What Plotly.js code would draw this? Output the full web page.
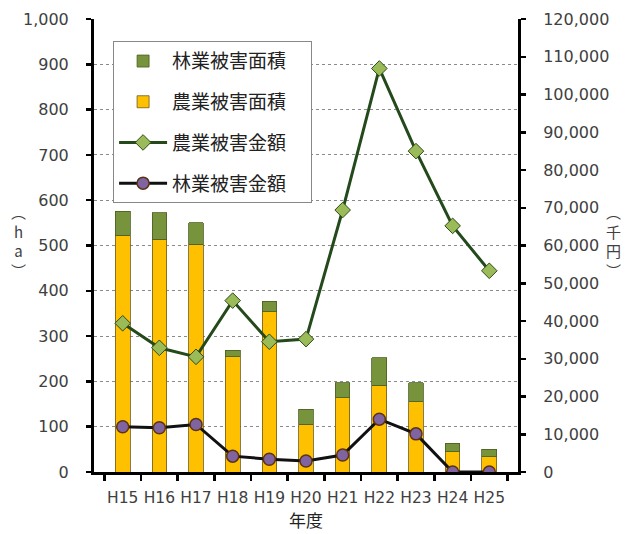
<!DOCTYPE html>
<html><head><meta charset="utf-8">
<script src="https://cdn.plot.ly/plotly-3.0.1.min.js"></script>
<style>html,body{margin:0;padding:0;background:#fff}</style>
</head><body>
<div id="chart" style="width:627px;height:534px"></div>
<script>
var years = ["H15","H16","H17","H18","H19","H20","H21","H22","H23","H24","H25"];
var agriArea = [523, 514, 503, 254, 354, 105, 164, 192, 155, 45, 34];
var forestArea = [53, 58, 47, 15, 23, 34, 33, 60, 42, 18, 16];
var agriMoney = [39400, 32900, 30500, 45400, 34500, 35200, 69400, 106900, 85000, 65200, 53300];
var forestMoney = [12000, 11700, 12600, 4200, 3400, 2900, 4500, 14000, 10100, 0, 0];
var leftTicks = [0,100,200,300,400,500,600,700,800,900,1000];
var rightTicks = [0,10000,20000,30000,40000,50000,60000,70000,80000,90000,100000,110000,120000];

var cjk = '"Noto Sans CJK JP", "DejaVu Sans", sans-serif';
var num = '"DejaVu Sans", sans-serif';

var traces = [
  {type:'bar', x:years, y:agriArea, name:'農業被害面積　', legendrank:2, legendgroup:'b',
   width:0.4, marker:{color:'#FFC000', line:{color:'#6b5a20', width:0.8}}},
  {type:'bar', x:years, y:forestArea, name:'林業被害面積　', legendrank:1, legendgroup:'a',
   width:0.4, marker:{color:'#77933C', line:{color:'#4a5e22', width:0.8}}},
  {type:'scatter', mode:'lines+markers', x:years, y:agriMoney, yaxis:'y2', name:'農業被害金額　', legendrank:3, legendgroup:'c',
   line:{color:'#244a1c', width:3},
   marker:{symbol:'diamond', size:12, color:'#9BBB59', line:{color:'#2d4a1a', width:1}}},
  {type:'scatter', mode:'lines+markers', x:years, y:forestMoney, yaxis:'y2', name:'林業被害金額　', legendrank:4, legendgroup:'d',
   line:{color:'#111111', width:3},
   marker:{symbol:'circle', size:12, color:'#8064A2', line:{color:'#5c3317', width:1.5}}}
];

var layout = {
  width:627, height:534,
  margin:{l:94, r:109, t:19, b:62},
  paper_bgcolor:'#fff', plot_bgcolor:'#fff',
  barmode:'stack',
  showlegend:true,
  font:{family:num, size:16, color:'#404040'},
  legend:{x:0.045, y:0.951, xanchor:'left', yanchor:'top', bgcolor:'#fff',
    bordercolor:'#888', borderwidth:1, traceorder:'grouped', tracegroupgap:13,
    itemwidth:48, font:{family:cjk, size:19, color:'#222'}},
  xaxis:{type:'category', showline:true, linecolor:'#000', linewidth:3,
    ticks:'outside', tickson:'boundaries', ticklen:6, tickwidth:2.5, tickcolor:'#000',
    tickangle:0, ticklabelstandoff:9, tickfont:{family:num, size:15.5, color:'#404040'},
    title:{text:'年度', font:{family:cjk, size:17, color:'#222'}, standoff:6},
    showgrid:false, fixedrange:true},
  yaxis:{range:[0,1000], tickvals:leftTicks, tickformat:',d', showline:true, linecolor:'#000', linewidth:3,
    ticks:'outside', ticklen:5, tickwidth:2.5, tickcolor:'#000', ticklabelstandoff:14,
    showgrid:true, gridcolor:'#8a8a8a', gridwidth:1, griddash:'dot', zeroline:false,
    tickfont:{family:num, size:16, color:'#404040'}},
  yaxis2:{range:[0,120000], tickvals:rightTicks, tickformat:',d', overlaying:'y', side:'right',
    showline:true, linecolor:'#000', linewidth:3, ticks:'outside', ticklen:5, tickwidth:2.5, tickcolor:'#000',
    ticklabelstandoff:14, showgrid:false, zeroline:false,
    tickfont:{family:num, size:16, color:'#404040'}},
  annotations:[
    {xref:'paper', yref:'paper', x:-0.178, y:0.51, xanchor:'center', yanchor:'middle', showarrow:false,
     text:'︵<br>h<br>a<br>︶', font:{family:cjk, size:15, color:'#404040'}},
    {xref:'paper', yref:'paper', x:1.226, y:0.51, xanchor:'center', yanchor:'middle', showarrow:false,
     text:'︵<br>千<br>円<br>︶', font:{family:cjk, size:15, color:'#404040'}}
  ]
};
Plotly.newPlot('chart', traces, layout, {displayModeBar:false, staticPlot:true});
</script>
</body></html>
